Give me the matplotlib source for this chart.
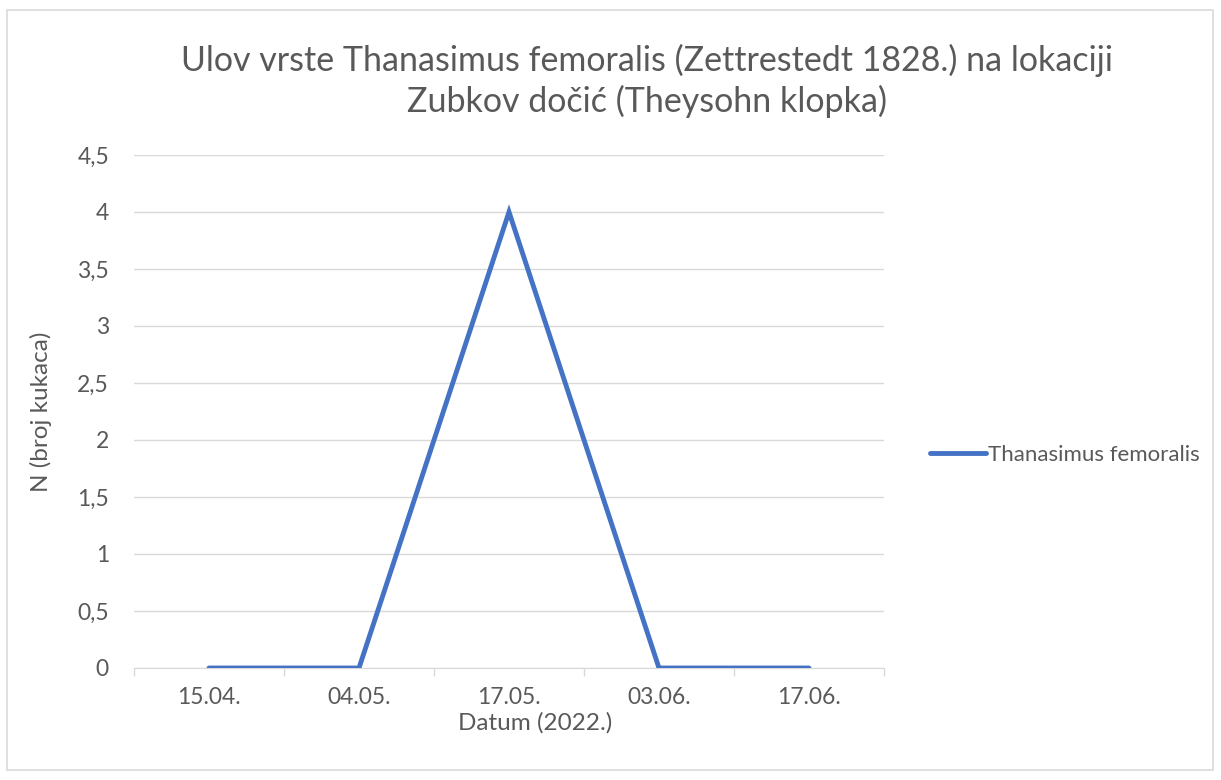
import matplotlib.pyplot as plt
from matplotlib.patches import Rectangle
from matplotlib.ticker import MultipleLocator, FuncFormatter

# data
datumi = ["15.04.", "04.05.", "17.05.", "03.06.", "17.06."]
ulov = [0, 0, 4, 0, 0]

plt.rcParams['font.family'] = ['Lato', 'DejaVu Sans']
siva = "#595959"
plava = "#4472C4"

fig = plt.figure(figsize=(12.21, 7.8), dpi=100)
#border round the chart area
fig.add_artist(Rectangle((7/1221, 10/780), 1206/1221, 760/780, transform=fig.transFigure,
                         fill=False, edgecolor="#D9D9D9", linewidth=1.2))

ax = fig.add_axes([134/1221, 1-668/780, 750/1221, 513/780])
x = list(range(len(datumi)))
ax.plot(x, ulov, color=plava, linewidth=3.5, solid_capstyle='round', solid_joinstyle='miter',
        label="Thanasimus femoralis", zorder=3)

ax.set_xlim(-0.5, len(datumi)-0.5)
ax.set_ylim(0, 4.5)
ax.yaxis.set_major_locator(MultipleLocator(0.5))
ax.yaxis.set_major_formatter(FuncFormatter(lambda v, p: ("%g" % v).replace(".", ",")))
ax.grid(axis='y', color="#D9D9D9", linewidth=1)
ax.set_axisbelow(True)

#category labels centred, tick marks between
ax.set_xticks(x)
ax.set_xticklabels(datumi)
ax.set_xticks([i-0.5 for i in range(len(datumi)+1)], minor=True)
ax.tick_params(axis='x', which='major', length=0, pad=14, labelsize=16.5, labelcolor=siva)
ax.tick_params(axis='x', which='minor', length=6, color="#D9D9D9", width=1)
ax.tick_params(axis='y', length=0, pad=18, labelsize=16.5, labelcolor=siva)

for s in ['top', 'right', 'left']:
    ax.spines[s].set_visible(False)
ax.spines['bottom'].set_color("#D9D9D9")

ax.set_xlabel("Datum (2022.)", fontsize=17.5, color=siva, labelpad=2)
ax.xaxis.set_label_coords(0.535, -0.085)
ax.set_ylabel("N (broj kukaca)", fontsize=17.5, color=siva, labelpad=18)

fig.text(647/1221, 1-81/780, "Ulov vrste Thanasimus femoralis (Zettrestedt 1828.) na lokaciji\nZubkov dočić (Theysohn klopka)",
         ha='center', va='center', fontsize=24.5, color=siva, linespacing=1.32)

leg = ax.legend(loc='center left', bbox_to_anchor=(1.035, 0.415), frameon=False, fontsize=16,
                handlelength=2.5, handletextpad=0.1, labelcolor=siva)

fig.savefig("out.png", dpi=100)
